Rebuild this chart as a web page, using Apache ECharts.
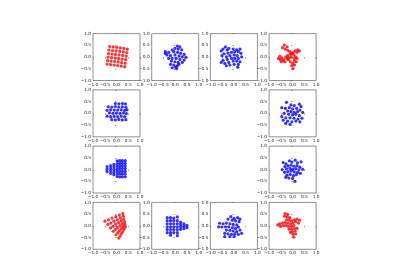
<!DOCTYPE html>
<html><head><meta charset="utf-8">
<script src="https://cdn.jsdelivr.net/npm/echarts@6/dist/echarts.min.js"></script>
<style>html,body{margin:0;padding:0;background:#fff}#c{width:400px;height:280px}</style>
</head><body><div id="c"></div>
<script>
// axis range (ticks -1.0 ... 1.0 every 0.5)
const axisMin = -1.0, axisMax = 1.0, axisStep = 0.5;

// panel order: row by row, outer ring of a 4x4 grid
const p1 = [[-0.29,0.45],[-0.14,0.43],[0.01,0.41],[0.16,0.39],[0.31,0.37],[0.46,0.34],
[-0.32,0.30],[-0.17,0.28],[-0.02,0.26],[0.14,0.24],[0.29,0.22],[0.44,0.19],
[-0.34,0.15],[-0.19,0.13],[-0.04,0.11],[0.11,0.09],[0.26,0.07],[0.41,0.04],
[-0.36,0.00],[-0.21,-0.02],[-0.06,-0.04],[0.09,-0.06],[0.24,-0.09],[0.39,-0.11],
[-0.38,-0.15],[-0.23,-0.17],[-0.08,-0.19],[0.07,-0.21],[0.22,-0.24],[0.37,-0.26],
[-0.40,-0.30],[-0.25,-0.32],[-0.10,-0.34],[0.05,-0.36],[0.20,-0.39],[0.35,-0.41]];
const p2 = [[0.09,0.47],[0.20,0.43],[-0.01,0.37],[0.13,0.34],[-0.13,0.30],[0.28,0.31],[-0.42,0.23],[-0.28,0.20],[-0.06,0.23],[0.10,0.20],[0.23,0.16],[0.38,0.11],[-0.35,0.09],[-0.20,0.06],[-0.01,0.09],[0.16,0.04],[0.30,0.01],[0.45,-0.01],[-0.28,-0.06],[-0.13,-0.06],[0.04,-0.06],[0.20,-0.10],[0.38,-0.13],[-0.16,-0.17],[-0.01,-0.20],[0.13,-0.23],[0.30,-0.23],[-0.20,-0.31],[-0.06,-0.34],[0.09,-0.37],[-0.13,-0.46],[0.01,-0.43],[0.16,-0.31],[-0.42,0.16],[0.06,-0.49]];
const p3 = [[-0.36,0.43],[-0.46,0.34],[-0.54,0.26],[-0.29,0.30],[-0.22,0.37],[-0.03,0.34],[0.12,0.31],[0.26,0.34],[0.19,0.23],[0.04,0.23],[-0.10,0.20],[-0.25,0.17],[-0.42,0.14],[-0.51,0.06],[-0.32,0.01],[-0.17,0.06],[0.01,0.09],[0.14,0.06],[0.30,0.16],[0.33,0.01],[0.19,-0.06],[0.04,-0.06],[-0.10,-0.06],[-0.28,-0.10],[-0.46,-0.14],[-0.54,-0.23],[-0.39,-0.27],[-0.22,-0.23],[-0.03,-0.17],[0.12,-0.17],[0.26,-0.20],[0.19,-0.31],[0.01,-0.31],[-0.17,-0.34],[-0.32,-0.37],[0.16,-0.43]];
const p4 = [[-0.35,0.51],[-0.23,0.44],[-0.43,0.40],[-0.32,0.34],[-0.21,0.29],[-0.12,0.23],[-0.04,0.16],[0.05,0.09],[0.13,0.01],[0.19,-0.06],[0.08,-0.17],[0.01,-0.27],[-0.04,-0.37],[0.02,-0.49],[-0.09,-0.20],[-0.18,-0.11],[-0.60,-0.06],[-0.52,-0.11],[-0.46,-0.03],[-0.38,-0.09],[-0.29,0.01],[-0.21,0.06],[-0.09,0.11],[0.02,0.19],[0.11,0.26],[0.22,0.31],[0.29,0.26],[0.19,0.20],[-0.40,-0.17],[-0.32,-0.20],[-0.23,-0.06],[-0.06,0.00],[-0.15,-0.03],[0.08,-0.06],[0.16,-0.20],[0.08,-0.34],[-0.55,0.03],[-0.49,-0.20]];
const p5 = [[-0.05,0.42],[0.10,0.41],[0.25,0.42],[0.38,0.40],
[-0.35,0.28],[-0.20,0.27],[-0.05,0.29],[0.10,0.27],[0.25,0.28],[0.40,0.26],
[-0.40,0.13],[-0.25,0.15],[-0.10,0.14],[0.05,0.14],[0.20,0.15],[0.35,0.13],[0.45,0.15],
[-0.30,0.02],[-0.15,0.00],[0.00,0.01],[0.15,0.00],[0.30,0.02],[0.42,-0.01],
[-0.40,-0.12],[-0.25,-0.14],[-0.10,-0.13],[0.05,-0.14],[0.20,-0.12],[0.35,-0.14],
[-0.20,-0.27],[-0.05,-0.28],[0.10,-0.26],[0.25,-0.28],[0.40,-0.27]];
const p6 = [[-0.26,0.47],[-0.07,0.36],[0.07,0.33],[0.29,0.39],[0.36,0.29],[-0.46,0.24],[-0.31,0.21],[-0.14,0.24],[0.00,0.19],[0.17,0.21],[0.31,0.14],[-0.21,0.10],[-0.07,0.07],[0.07,0.04],[0.21,0.07],[0.43,0.04],[-0.36,0.00],[-0.17,-0.04],[0.00,-0.07],[0.14,-0.04],[0.29,-0.10],[-0.46,-0.14],[-0.29,-0.19],[-0.11,-0.19],[0.06,-0.21],[0.23,-0.24],[0.40,-0.21],[-0.21,-0.33],[-0.03,-0.36],[0.14,-0.33],[-0.29,-0.43],[-0.11,-0.47],[0.31,-0.36],[-0.40,-0.29]];
const p7 = [[0.37,0.38],[0.37,0.26],[0.37,0.15],[0.37,0.04],[0.37,-0.08],[0.37,-0.19],[0.37,-0.31],
[0.25,0.38],[0.25,0.26],[0.25,0.15],[0.25,0.04],[0.25,-0.08],[0.25,-0.19],[0.25,-0.31],
[0.14,0.38],[0.14,0.26],[0.14,0.15],[0.14,0.04],[0.14,-0.08],[0.14,-0.19],[0.14,-0.31],
[0.03,0.37],[0.03,0.25],[0.03,0.14],[0.03,0.03],[0.03,-0.08],[0.03,-0.19],[0.03,-0.30],
[-0.11,0.22],[-0.11,0.11],[-0.11,0.00],[-0.11,-0.11],[-0.11,-0.22],
[-0.25,0.17],[-0.25,0.06],[-0.25,-0.05],[-0.25,-0.16],
[-0.40,0.13],[-0.40,0.02],[-0.40,-0.09]];
const p8 = [[-0.40,0.30],[-0.28,0.24],[-0.14,0.37],[-0.03,0.32],[0.11,0.40],[0.21,0.29],[0.36,0.33],
[-0.33,0.13],[-0.19,0.16],[-0.06,0.19],[0.06,0.14],[0.19,0.17],[0.31,0.10],
[-0.44,0.00],[-0.26,0.03],[-0.11,0.05],[0.01,0.01],[0.14,0.04],[0.27,-0.01],[0.43,0.01],
[-0.34,-0.11],[-0.20,-0.09],[-0.07,-0.06],[0.07,-0.10],[0.21,-0.12],[0.33,-0.16],
[-0.24,-0.24],[-0.10,-0.21],[0.04,-0.26],[0.16,-0.22],
[-0.16,-0.36],[0.00,-0.38],[0.10,-0.50],[-0.29,-0.33]];
const p9 = [[-0.49,0.20],[-0.34,0.26],[-0.19,0.33],[-0.03,0.39],[0.12,0.46],[0.27,0.52],
[-0.37,0.06],[-0.24,0.12],[-0.11,0.20],[0.03,0.26],[0.16,0.34],[0.29,0.41],
[-0.25,-0.09],[-0.14,-0.02],[-0.03,0.07],[0.09,0.14],[0.20,0.22],[0.31,0.29],
[-0.14,-0.23],[-0.04,-0.15],[0.05,-0.07],[0.15,0.01],[0.24,0.10],[0.34,0.18],
[-0.02,-0.38],[0.06,-0.29],[0.13,-0.20],[0.21,-0.11],[0.28,-0.02],[0.36,0.06],
[0.10,-0.52],[0.16,-0.43],[0.21,-0.33],[0.27,-0.24],[0.32,-0.14],[0.38,-0.05]];
const p10 = [[-0.34,0.35],[-0.34,0.22],[-0.34,0.09],[-0.34,-0.04],[-0.34,-0.16],[-0.34,-0.29],
[-0.20,0.35],[-0.20,0.22],[-0.20,0.09],[-0.20,-0.04],[-0.20,-0.16],[-0.20,-0.29],[-0.20,-0.40],
[-0.06,0.33],[-0.06,0.22],[-0.06,0.09],[-0.06,-0.04],[-0.06,-0.16],[-0.06,-0.29],
[0.09,0.38],[0.09,0.22],[0.09,0.09],[0.09,-0.04],[0.09,-0.16],[0.09,-0.29],[0.09,-0.42],
[0.23,0.15],[0.23,0.05],[0.23,-0.05],[0.23,-0.15],
[0.37,0.08],[0.37,-0.02],[0.37,-0.12],
[0.50,0.02],[0.50,-0.08]];
const p11 = [[-0.13,0.39],[0.01,0.32],[0.16,0.35],[0.26,0.29],[-0.25,0.29],[-0.07,0.24],[0.07,0.21],[0.22,0.18],[-0.61,0.11],[-0.46,0.09],[-0.32,0.12],[-0.17,0.09],[-0.03,0.06],[0.12,0.04],[-0.65,-0.04],[-0.51,-0.05],[-0.36,-0.04],[-0.22,-0.04],[-0.07,-0.08],[0.07,-0.11],[0.19,-0.05],[-0.32,-0.18],[-0.17,-0.19],[-0.03,-0.22],[0.12,-0.25],[0.26,-0.18],[-0.39,-0.32],[-0.25,-0.34],[-0.10,-0.36],[0.04,-0.34],[0.19,-0.36],[0.33,-0.32],[-0.17,-0.46],[0.01,-0.45],[-0.39,-0.46]];
const p12 = [[-0.32,0.52],[-0.21,0.49],[-0.35,0.41],[-0.23,0.38],[-0.12,0.35],[-0.26,0.26],[-0.15,0.24],[-0.04,0.21],[0.08,0.26],[0.19,0.29],[0.30,0.24],[0.13,0.18],[0.25,0.12],[0.02,0.12],[-0.09,0.09],[-0.21,0.12],[-0.32,0.15],[-0.43,0.12],[-0.55,0.09],[-0.63,0.04],[-0.52,-0.02],[-0.40,0.01],[-0.29,0.01],[-0.18,-0.02],[-0.06,-0.02],[0.05,0.01],[-0.04,-0.14],[-0.15,-0.14],[0.08,-0.11],[-0.01,-0.25],[0.11,-0.22],[0.02,-0.36],[0.13,-0.34],[0.05,-0.48],[-0.09,-0.28],[0.19,-0.11]];

const panels = [p1,p2,p3,p4,p5,p6,p7,p8,p9,p10,p11,p12];
// grid cell (row, col) of each panel
const cellRow = [0,0,0,0,1,1,2,2,3,3,3,3];
const cellCol = [0,1,2,3,0,3,0,3,0,1,2,3];
const panelColor = ['#ff0000','#0000ff','#0000ff','#ff0000','#0000ff','#0000ff','#0000ff','#0000ff','#ff0000','#0000ff','#0000ff','#ff0000'];

const colLeft = [93, 151.7, 210.4, 269.1];
const rowTop = [33.6, 89.9, 146.1, 202.4];
const W = 47, H = 46.9;

const fmt = v => (v < 0 ? '\u2212' + Math.abs(v).toFixed(1) : v.toFixed(1));
const labelStyle = {fontFamily: 'DejaVu Sans', fontSize: 4.3, color: '#222', margin: 2, formatter: fmt, showMinLabel: true, showMaxLabel: true, hideOverlap: false};

const grid = [], xAxis = [], yAxis = [], series = [];
panels.forEach((d, i) => {
  grid.push({left: colLeft[cellCol[i]], top: rowTop[cellRow[i]], width: W, height: H,
    show: true, borderColor: '#444', borderWidth: 0.6, backgroundColor: '#fff'});
  const ax = {gridIndex: i, type: 'value', min: axisMin, max: axisMax, interval: axisStep,
    splitLine: {show: false}, axisLine: {show: false},
    axisTick: {show: true, inside: false, length: 1.5, lineStyle: {color: '#444', width: 0.5}},
    axisLabel: labelStyle};
  xAxis.push(Object.assign({}, ax));
  yAxis.push(Object.assign({}, ax));
  series.push({type: 'scatter', xAxisIndex: i, yAxisIndex: i, data: d, symbolSize: 3.2,
    itemStyle: {color: panelColor[i]}, animation: false, silent: true});
});

const chart = echarts.init(document.getElementById('c'), null, {renderer: 'canvas'});
chart.setOption({animation: false, backgroundColor: '#fff', grid, xAxis, yAxis, series});
</script></body></html>
